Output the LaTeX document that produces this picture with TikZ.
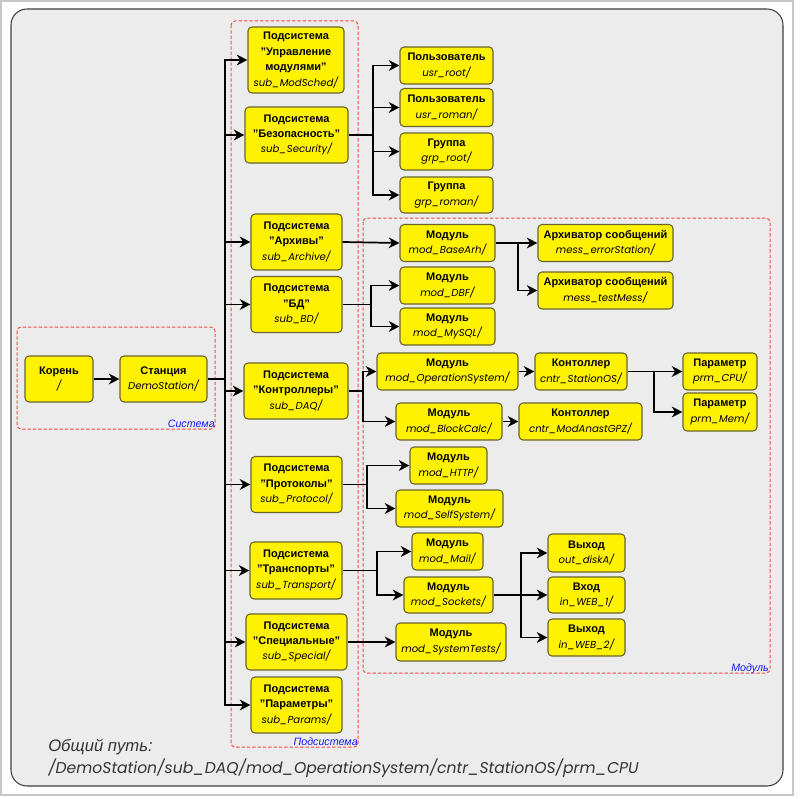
\documentclass[tikz,border=0pt]{standalone}
\usepackage{fontspec}
\setmainfont{Liberation Sans}
\newfontfamily\gothic{Poppins}
\usetikzlibrary{arrows.meta}
\definecolor{boxline}{RGB}{105,100,45}
\definecolor{panel}{RGB}{236,236,236}
\definecolor{grpred}{RGB}{255,70,70}
\definecolor{grpblue}{RGB}{25,25,255}
\newcommand\pth[1]{{\mdseries\gothic\itshape\fontsize{7.6}{11.6}\selectfont #1}}
\begin{document}
\begin{tikzpicture}[
  x=0.75pt, y=-0.75pt,
  blk/.style={
    draw=boxline,
    line width=0.8pt,
    fill=yellow,
    rounded corners=3pt,
    align=center,
    inner sep=0pt,
    font=\fontsize{8.25}{11.6}\selectfont\bfseries
  },
  wh/.style 2 args={minimum width=#1*0.75pt, minimum height=#2*0.75pt},
  ln/.style={line width=1.3pt},
  arr/.style={line width=1.3pt, -{Stealth[length=8pt,width=8pt,inset=2.5pt]}},
  grp/.style={draw=grpred, line width=0.75pt, dash pattern=on 2.5pt off 1.5pt, rounded corners=3pt},
  grplbl/.style={font=\fontsize{8}{9}\selectfont\itshape, text=grpblue, inner sep=0pt, anchor=base east}
]
  \useasboundingbox (0,0) rectangle (800,799);
  % background
  \draw[black!22, line width=1.5pt] (1,1) rectangle (793,795);
  \draw[black!75, fill=panel, line width=0.8pt, rounded corners=12pt] (11,9) rectangle (783,786);

  % groups
  \draw[grp] (17,327) rectangle (215,429);
  \draw[grp] (231,21) rectangle (358,747);
  \draw[grp] (363,218) rectangle (770,673);
  \node[grplbl] (lSys) at (215,427) {Система};
  \node[grplbl] (lSub) at (358,745) {Подсистема};
  \node[grplbl] (lMod) at (769,671) {Модуль};

  % root and station
  \node[blk, wh={68}{46}] (root) at (59,379) {Корень\\\pth{/}};
  \node[blk, wh={87}{46}] (stat) at (163.5,379) {Станция\\\pth{DemoStation/}};

  % subsystems
  \node[blk, wh={96}{66}]  (sModSch) at (296,60)    {Подсистема\\"Управление\\модулями"\\\pth{sub\_ModSched/}};
  \node[blk, wh={103}{56}] (sSec)    at (296.5,135) {Подсистема\\"Безопасность"\\\pth{sub\_Security/}};
  \node[blk, wh={91}{56}]  (sArh)    at (296.5,242) {Подсистема\\"Архивы"\\\pth{sub\_Archive/}};
  \node[blk, wh={91}{56}]  (sBD)     at (296.5,304.5) {Подсистема\\"БД"\\\pth{sub\_BD/}};
  \node[blk, wh={104}{56}] (sDAQ)    at (296,391)   {Подсистема\\"Контроллеры"\\\pth{sub\_DAQ/}};
  \node[blk, wh={91}{56}]  (sProt)   at (296.5,484.5) {Подсистема\\"Протоколы"\\\pth{sub\_Protocol/}};
  \node[blk, wh={92}{57}]  (sTr)     at (296,570.5) {Подсистема\\"Транспорты"\\\pth{sub\_Transport/}};
  \node[blk, wh={101}{56}] (sSpec)   at (296.5,642) {Подсистема\\"Специальные"\\\pth{sub\_Special/}};
  \node[blk, wh={91}{56}]  (sPrm)    at (296.5,705) {Подсистема\\"Параметры"\\\pth{sub\_Params/}};

  % security
  \node[blk, wh={93}{37}] (uRoot)  at (446.5,65.5)  {Пользователь\\\pth{usr\_root/}};
  \node[blk, wh={93}{38}] (uRoman) at (446.5,107.5) {Пользователь\\\pth{usr\_roman/}};
  \node[blk, wh={93}{37}] (gRoot)  at (446.5,151.5) {Группа\\\pth{grp\_root/}};
  \node[blk, wh={93}{36}] (gRoman) at (446.5,195)   {Группа\\\pth{grp\_roman/}};

  % modules
  \node[blk, wh={95}{37}]  (mBase)   at (447.5,243)   {Модуль\\\pth{mod\_BaseArh/}};
  \node[blk, wh={135}{37}] (msgErr)  at (605.5,243)   {Архиватор сообщений\\\pth{mess\_errorStation/}};
  \node[blk, wh={135}{37}] (msgTest) at (605.5,290.5) {Архиватор сообщений\\\pth{mess\_testMess/}};
  \node[blk, wh={95}{37}]  (mDBF)    at (447.5,285.5) {Модуль\\\pth{mod\_DBF/}};
  \node[blk, wh={95}{37}]  (mMySQL)  at (447.5,326.5) {Модуль\\\pth{mod\_MySQL/}};
  \node[blk, wh={141}{37}] (mOS)     at (447.5,371.5) {Модуль\\\pth{mod\_OperationSystem/}};
  \node[blk, wh={92}{37}]  (cOS)     at (581,371.5)   {Контоллер\\\pth{cntr\_StationOS/}};
  \node[blk, wh={74}{37}]  (pCPU)    at (720,371.5)   {Параметр\\\pth{prm\_CPU/}};
  \node[blk, wh={74}{38}]  (pMem)    at (720,412)     {Параметр\\\pth{prm\_Mem/}};
  \node[blk, wh={106}{37}] (mBlk)    at (449,421.5)   {Модуль\\\pth{mod\_BlockCalc/}};
  \node[blk, wh={123}{37}] (cGPZ)    at (580.5,421.5) {Контоллер\\\pth{cntr\_ModAnastGPZ/}};
  \node[blk, wh={77}{37}]  (mHTTP)   at (448.5,465.5) {Модуль\\\pth{mod\_HTTP/}};
  \node[blk, wh={107}{37}] (mSelf)   at (449.5,508.5) {Модуль\\\pth{mod\_SelfSystem/}};
  \node[blk, wh={71}{37}]  (mMail)   at (447.5,551.5) {Модуль\\\pth{mod\_Mail/}};
  \node[blk, wh={89}{36}]  (mSock)   at (448.5,595)   {Модуль\\\pth{mod\_Sockets/}};
  \node[blk, wh={77}{38}]  (oDisk)   at (586.5,553)   {Выход\\\pth{out\_diskA/}};
  \node[blk, wh={77}{36}]  (iWeb1)   at (586.5,595)   {Вход\\\pth{in\_WEB\_1/}};
  \node[blk, wh={77}{37}]  (oWeb2)   at (586.5,637.5) {Выход\\\pth{in\_WEB\_2/}};
  \node[blk, wh={110}{38}] (mTests)  at (451,642)     {Модуль\\\pth{mod\_SystemTests/}};

  % branch points
  \coordinate (trk)    at (225,379);
  \coordinate (brSec)  at (373,135);
  \coordinate (brArh)  at (518,243);
  \coordinate (brBD)   at (371,304.5);
  \coordinate (brDAQ)  at (363,391);
  \coordinate (brOS)   at (654,371.5);
  \coordinate (brProt) at (367,484.5);
  \coordinate (brTr)   at (377,570.5);
  \coordinate (brSock) at (521,595);

  % connectors
  \draw[arr] (root) -- (stat);
  \draw[ln] (stat.east) -- (trk);
  \draw[arr] (trk) |- (sModSch.west);
  \draw[arr] (trk) |- (sSec.west);
  \draw[arr] (trk) |- (sArh.west);
  \draw[arr] (trk) |- (sBD.west);
  \draw[arr] (trk) |- (sDAQ.west);
  \draw[arr] (trk) |- (sProt.west);
  \draw[arr] (trk) |- (sTr.west);
  \draw[arr] (trk) |- (sSpec.west);
  \draw[arr] (trk) |- (sPrm.west);

  \draw[ln] (sSec.east) -- (brSec);
  \draw[arr] (brSec) |- (uRoot.west);
  \draw[arr] (brSec) |- (uRoman.west);
  \draw[arr] (brSec) |- (gRoot.west);
  \draw[arr] (brSec) |- (gRoman.west);

  \draw[arr] (sArh.east) -- (mBase.west);
  \draw[ln] (mBase.east) -- (brArh);
  \draw[arr] (brArh) |- (msgErr.west);
  \draw[arr] (brArh) |- (msgTest.west);

  \draw[ln] (sBD.east) -- (brBD);
  \draw[arr] (brBD) |- (mDBF.west);
  \draw[arr] (brBD) |- (mMySQL.west);

  \draw[ln] (sDAQ.east) -- (brDAQ);
  \draw[arr] (brDAQ) |- (mOS.west);
  \draw[arr] (brDAQ) |- (mBlk.west);
  \draw[arr] (mOS) -- (cOS);
  \draw[arr] (mBlk) -- (cGPZ);
  \draw[ln] (cOS.east) -- (brOS);
  \draw[arr] (brOS) |- (pCPU.west);
  \draw[arr] (brOS) |- (pMem.west);

  \draw[ln] (sProt.east) -- (brProt);
  \draw[arr] (brProt) |- (mHTTP.west);
  \draw[arr] (brProt) |- (mSelf.west);

  \draw[ln] (sTr.east) -- (brTr);
  \draw[arr] (brTr) |- (mMail.west);
  \draw[arr] (brTr) |- (mSock.west);
  \draw[ln] (mSock.east) -- (brSock);
  \draw[arr] (brSock) |- (oDisk.west);
  \draw[arr] (brSock) |- (iWeb1.west);
  \draw[arr] (brSock) |- (oWeb2.west);

  \draw[arr] (sSpec.east) -- (mTests.west);

  % path
  \node[anchor=base west, inner sep=0pt, text=black!80, font=\fontsize{12.5}{15}\selectfont\itshape] (pathHead) at (48,751) {Общий путь:};
  \node[anchor=base west, inner sep=0pt, text=black!80, font=\fontsize{11.7}{15}\selectfont\gothic\itshape] (pathLine) at (48,773) {/DemoStation/sub\_DAQ/mod\_OperationSystem/cntr\_StationOS/prm\_CPU};
\end{tikzpicture}
\end{document}
